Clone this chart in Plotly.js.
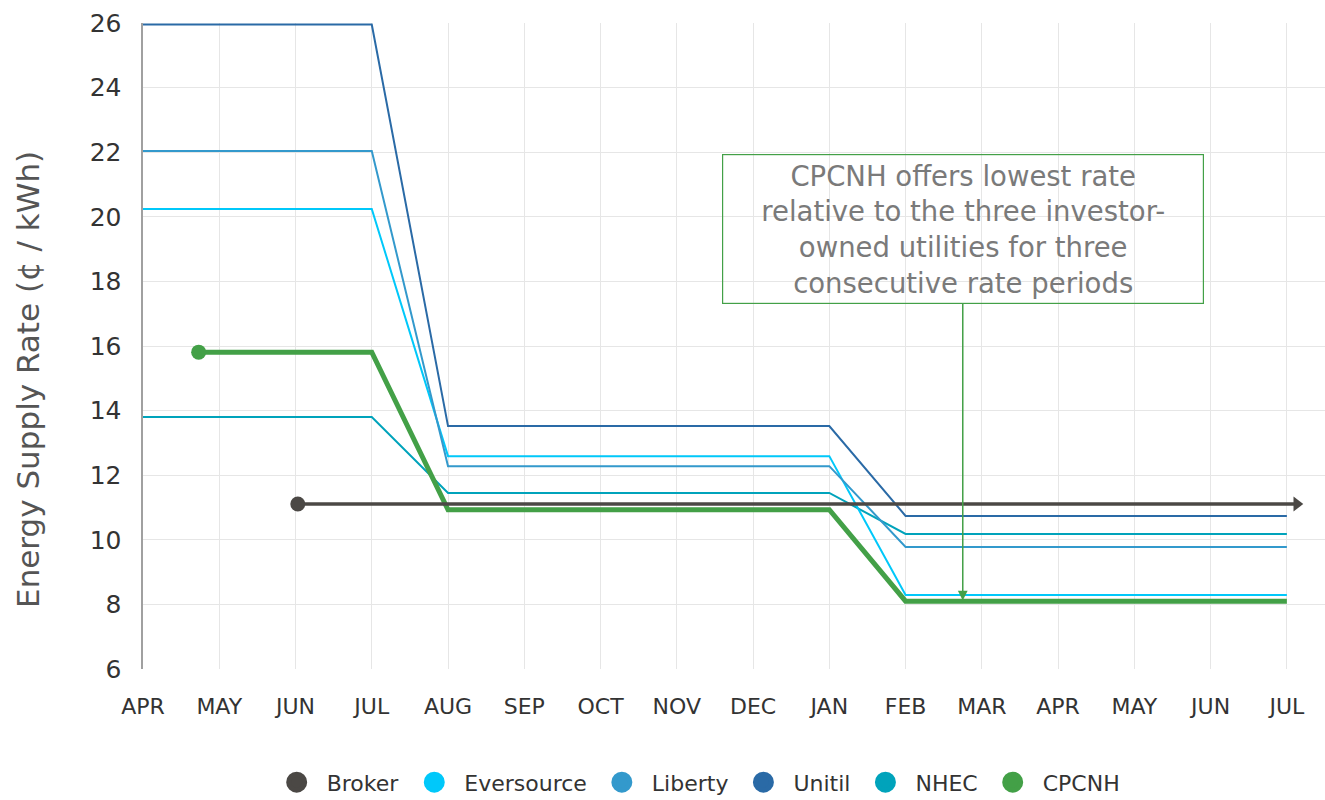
<!DOCTYPE html>
<html>
<head>
<meta charset="utf-8">
<script src="https://cdn.plot.ly/plotly-3.0.1.min.js"></script>
<style>html,body{margin:0;padding:0;background:#fff;}#chart{width:1325px;height:800px;}</style>
</head>
<body>
<div id="chart"></div>
<script>
const months = ['APR','MAY','JUN','JUL','AUG','SEP','OCT','NOV','DEC','JAN','FEB','MAR','APR','MAY','JUN','JUL'];
const monthPos = [0,1,2,3,4,5,6,7,8,9,10,11,12,13,14,15];
const yTicks = [6,8,10,12,14,16,18,20,22,24,26];

const utilX = [0, 3, 4, 9, 10, 15];
const eversource = [20.24, 20.24, 12.59, 12.59, 8.29, 8.29];
const liberty = [22.04, 22.04, 12.28, 12.28, 9.78, 9.78];
const unitil = [25.95, 25.95, 13.52, 13.52, 10.74, 10.74];
const nhec = [13.80, 13.80, 11.45, 11.45, 10.18, 10.18];
const cpcnhX = [0.73, 3, 4, 9, 10, 15];
const cpcnh = [15.81, 15.81, 10.93, 10.93, 8.10, 8.10];
const brokerX = [2.03, 15.13];
const broker = [11.11, 11.11];

const names = ['Broker','Eversource','Liberty','Unitil','NHEC','CPCNH'];
const colors = {Broker:'#4b4845', Eversource:'#00c8fa', Liberty:'#3399cc', Unitil:'#2a6aa6', NHEC:'#00a3bb', CPCNH:'#43a047'};

const font = '"DejaVu Sans", "Noto Sans", sans-serif';

const traces = [
  {x: utilX, y: nhec, mode:'lines', line:{color:colors.NHEC, width:2}, showlegend:false, hoverinfo:'skip'},
  {x: utilX, y: eversource, mode:'lines', line:{color:colors.Eversource, width:2}, showlegend:false, hoverinfo:'skip'},
  {x: utilX, y: liberty, mode:'lines', line:{color:colors.Liberty, width:2}, showlegend:false, hoverinfo:'skip'},
  {x: utilX, y: unitil, mode:'lines', line:{color:colors.Unitil, width:2}, showlegend:false, hoverinfo:'skip'},
  {x: cpcnhX, y: cpcnh, mode:'lines+markers', line:{color:colors.CPCNH, width:5},
   marker:{color:colors.CPCNH, opacity:1, size:[15,0,0,0,0,0], line:{width:0}}, showlegend:false, hoverinfo:'skip'},
  {x: brokerX, y: broker, mode:'lines+markers', line:{color:colors.Broker, width:3.5},
   marker:{color:colors.Broker, opacity:1, size:[15,13], symbol:['circle','triangle-right'], line:{width:0}}, showlegend:false, hoverinfo:'skip'}
];
names.forEach(n => traces.push({x:[null], y:[null], name:n, mode:'markers',
  marker:{color:colors[n], size:16, symbol:'circle', line:{color:colors[n], width:5}}, showlegend:true}));

const layout = {
  width:1325, height:800,
  margin:{l:143, r:0, t:23, b:131},
  paper_bgcolor:'#fff', plot_bgcolor:'#fff',
  font:{family:font, color:'#333'},
  xaxis:{range:[0,15.5], tickmode:'array', tickvals:monthPos, ticktext:months,
    showgrid:true, gridcolor:'#e6e6e6', gridwidth:1, zeroline:false, showline:false,
    ticks:'', ticklabelstandoff:22, tickfont:{size:22, color:'#333', family:font}},
  yaxis:{range:[6,26], tickmode:'array', tickvals:yTicks,
    showgrid:true, gridcolor:'#e6e6e6', gridwidth:1, zeroline:false,
    showline:true, linecolor:'#a0a0a0', linewidth:2.5,
    ticks:'', ticklabelstandoff:14, tickfont:{size:25, color:'#333', family:font}},
  legend:{orientation:'h', x:0.468, xanchor:'center', yref:'container', y:0.022, yanchor:'middle',
    font:{size:22, color:'#333', family:font}, itemsizing:'trace', itemwidth:50, traceorder:'normal'},
  annotations:[{
    x:10.75, y:8.12, xref:'x', yref:'y',
    text:'CPCNH offers lowest rate<br>relative to the three investor-<br>owned utilities for three<br>consecutive rate periods',
    showarrow:true, ax:0, ay:-372, arrowcolor:'#43a047', arrowwidth:1.5, arrowhead:2, arrowsize:1.3, standoff:0, startstandoff:0,
    bordercolor:'#43a047', borderwidth:1.2, borderpad:4, bgcolor:'rgba(255,255,255,0)',
    font:{size:27.5, color:'#7a7a7a', family:font}, align:'center', width:472, height:140
  },{
    xref:'paper', yref:'paper', x:-0.0973, y:0.449, xanchor:'center', yanchor:'middle', textangle:-90,
    showarrow:false, text:'Energy Supply Rate (¢ / kWh)', font:{size:31, color:'#555', family:font}
  }]
};

Plotly.newPlot('chart', traces, layout, {displayModeBar:false, staticPlot:true});
</script>
</body>
</html>
